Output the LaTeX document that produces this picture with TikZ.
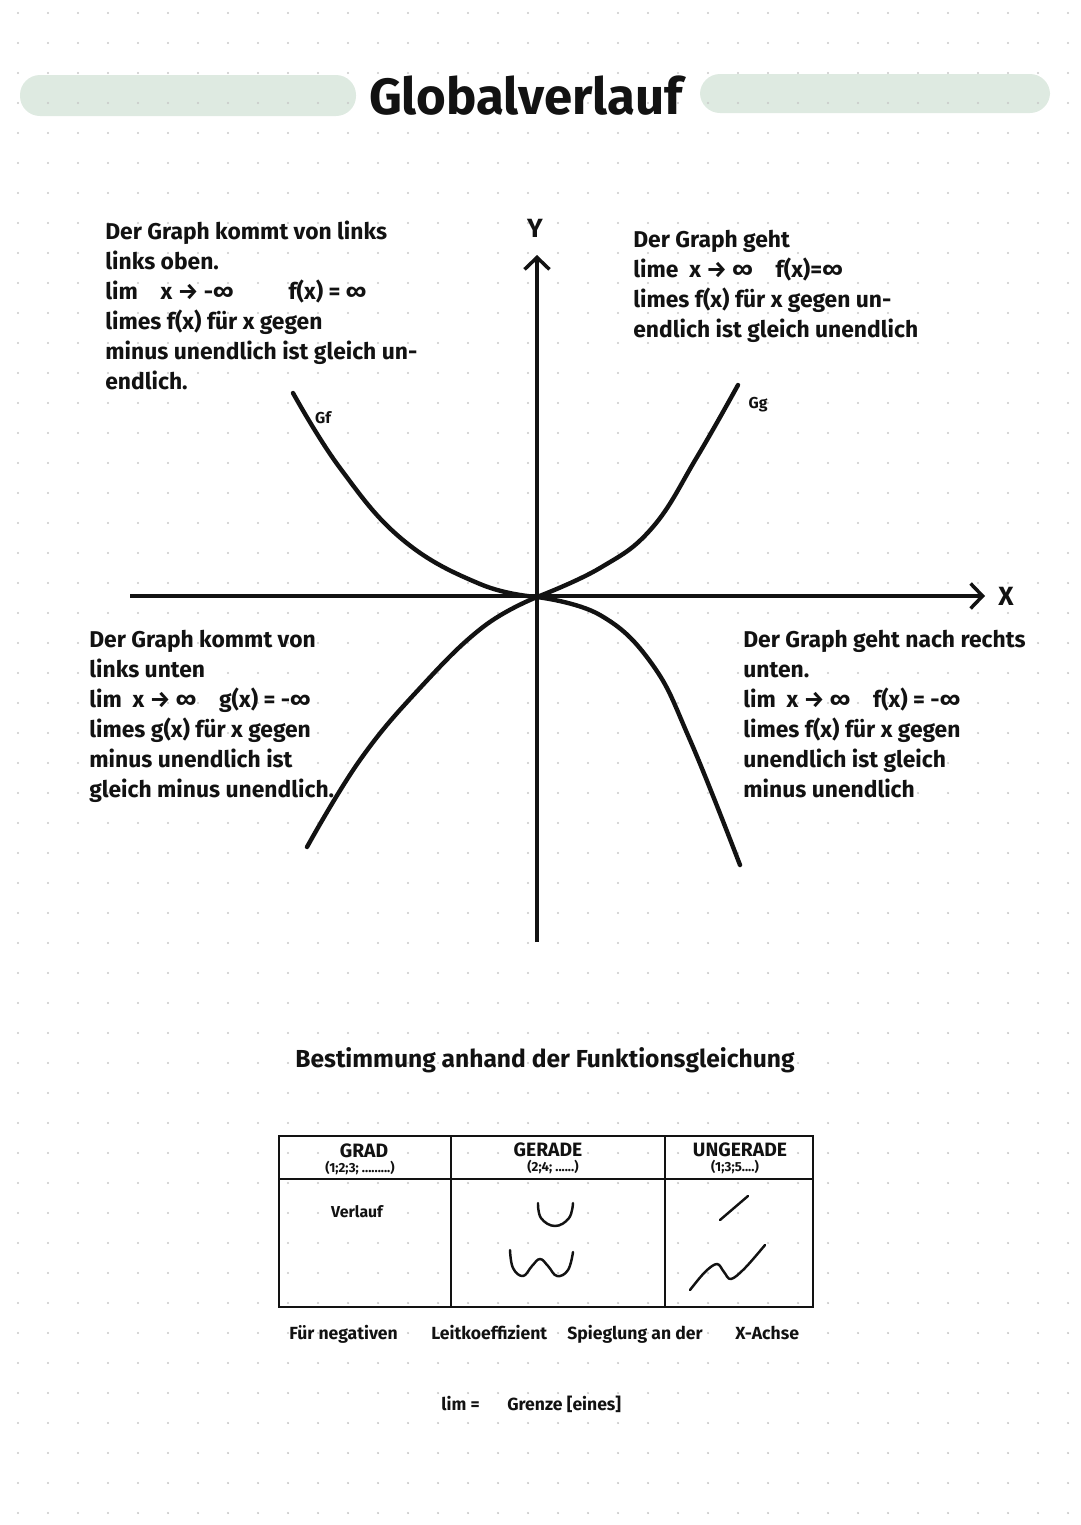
\documentclass[tikz,border=0pt]{standalone}
\usepackage{fontspec}
\setmainfont{Fira Sans}
\usetikzlibrary{positioning,arrows.meta}
\definecolor{bannergreen}{RGB}{222,234,225}
\definecolor{griddot}{RGB}{200,200,200}
\definecolor{ink}{RGB}{18,18,18}
\tikzset{
  notetext/.style={anchor=north west, align=left, inner sep=0pt, text=ink,
                   font=\fontsize{13}{17}\selectfont\bfseries},
  axisline/.style={line width=2pt, draw=ink,
                   -{Straight Barb[length=2.4mm,width=5mm,line width=2pt]}},
  graphline/.style={line width=2.5pt, draw=ink, line cap=round, line join=round},
  tableline/.style={line width=1.5pt, draw=ink},
  headtext/.style={inner sep=0pt, text=ink, font=\fontsize{11}{12}\selectfont\bfseries},
  subtext/.style={inner sep=0pt, text=ink, font=\fontsize{7.5}{8}\selectfont\bfseries},
  smalltext/.style={anchor=base west, inner sep=0pt, text=ink, font=\fontsize{10}{12}\selectfont\bfseries},
  sketchline/.style={line width=1.4pt, draw=ink, line cap=round, line join=round},
}

\begin{document}
\begin{tikzpicture}[x=0.02cm, y=-0.02cm]
  \useasboundingbox (0,0) rectangle (1080,1525);

  % title banner
  \fill[bannergreen, rounded corners=0.4cm] (20,75) rectangle (356,116);
  \fill[bannergreen, rounded corners=0.4cm] (700,74) rectangle (1050,113);

  % dotted paper
  \foreach \i in {0,...,35}
    \foreach \j in {0,...,50}
      \fill[griddot] ({18+30*\i},{13+30*\j}) circle (0.7pt);

  \node[text=ink, font=\fontsize{29}{29}\selectfont\bfseries] (title) at (526,96) {Globalverlauf};

  % axes
  \coordinate (xleft)   at (130,596);
  \coordinate (xright)  at (985,596);
  \coordinate (ybottom) at (537,942);
  \coordinate (ytop)    at (537,255);
  \draw[axisline] (xleft) -- (xright);
  \draw[axisline] (ybottom) -- (ytop);
  \node[text=ink, font=\fontsize{15}{15}\selectfont\bfseries] (ylabel) at (535,228) {Y};
  \node[text=ink, font=\fontsize{15}{15}\selectfont\bfseries] (xlabel) at (1006,596) {X};

  % graphs
  \draw[graphline] plot[smooth, tension=0.7] coordinates
    {(293,393) (340,468) (403,540) (480,584) (537,597)};
  \draw[graphline] plot[smooth, tension=0.7] coordinates
    {(537,597) (600,568) (652,528) (697,457) (738,385)};
  \draw[graphline] plot[smooth, tension=0.7] coordinates
    {(537,597) (483,627) (420,688) (360,760) (307,847)};
  \draw[graphline] plot[smooth, tension=0.7] coordinates
    {(537,597) (600,615) (652,664) (690,740) (740,865)};
  \node[text=ink, font=\fontsize{9}{9}\selectfont\bfseries] (gflabel) at (323,418) {Gf};
  \node[text=ink, font=\fontsize{9}{9}\selectfont\bfseries] (gglabel) at (758,405) {Gg};

  % notes
  \node[notetext] (topleft) at (105,221)
    {Der Graph kommt von links\\links oben.\\
     lim\quad x → -∞\hspace{1.1cm}f(x) = ∞\\
     limes f(x) für x gegen\\minus unendlich ist gleich un-\\endlich.};
  \node[notetext] (topright) at (633,230)
    {Der Graph geht\\lime\ \ x → ∞\quad f(x)=∞\\
     limes f(x) für x gegen un-\\endlich ist gleich unendlich};
  \node[notetext] (bottomleft) at (89,630)
    {Der Graph kommt von\\links unten\\
     lim\ \ x → ∞\quad g(x) = -∞\\
     limes g(x) für x gegen\\minus unendlich ist\\gleich minus unendlich.};
  \node[notetext] (bottomright) at (743,630)
    {Der Graph geht nach rechts\\unten.\\
     lim\ \ x → ∞\quad f(x) = -∞\\
     limes f(x) für x gegen\\unendlich ist gleich\\minus unendlich};

  \node[text=ink, font=\fontsize{14}{15}\selectfont\bfseries] (method) at (545,1060)
    {Bestimmung anhand der Funktionsgleichung};

  % table
  \draw[tableline] (279,1136) rectangle (813,1307);
  \draw[tableline] (451,1136) -- (451,1307);
  \draw[tableline] (665,1136) -- (665,1307);
  \draw[tableline] (279,1179) -- (813,1179);
  \node[headtext] (gradhead) at (364,1151) {GRAD};
  \node[subtext]  (gradsub)  at (360,1168) {(1;2;3; .........)};
  \node[headtext] (evenhead) at (548,1150) {GERADE};
  \node[subtext]  (evensub)  at (553,1167) {(2;4; ......)};
  \node[headtext] (oddhead)  at (740,1150) {UNGERADE};
  \node[subtext]  (oddsub)   at (735,1167) {(1;3;5....)};
  \node[inner sep=0pt, text=ink, font=\fontsize{9}{9}\selectfont\bfseries] (verlauf) at (357,1212) {Verlauf};

  % sketches in the table
  \draw[sketchline] plot[smooth, tension=0.7] coordinates
    {(538,1203) (541,1218) (555,1226) (569,1218) (573,1203)};
  \draw[sketchline] plot[smooth, tension=0.7] coordinates
    {(510,1250) (513,1268) (523,1276) (532,1266) (540,1259) (548,1266) (557,1276) (568,1270) (573,1252)};
  \coordinate (oddlinea) at (720,1220);
  \coordinate (oddlineb) at (748,1196);
  \draw[sketchline] (oddlinea) -- (oddlineb);
  \draw[sketchline] plot[smooth, tension=0.6] coordinates
    {(690,1290) (705,1272) (717,1264) (724,1272) (731,1279) (745,1268) (765,1245)};

  % footnotes
  \node[smalltext] (neg1) at (289,1339) {Für negativen};
  \node[smalltext] (neg2) at (431,1339) {Leitkoeffizient};
  \node[smalltext] (neg3) at (567,1339) {Spieglung an der};
  \node[smalltext] (neg4) at (735,1339) {X-Achse};
  \node[smalltext] (limdef) at (441,1410) {lim =};
  \node[smalltext] (limword) at (507,1410) {Grenze [eines]};
\end{tikzpicture}
\end{document}
